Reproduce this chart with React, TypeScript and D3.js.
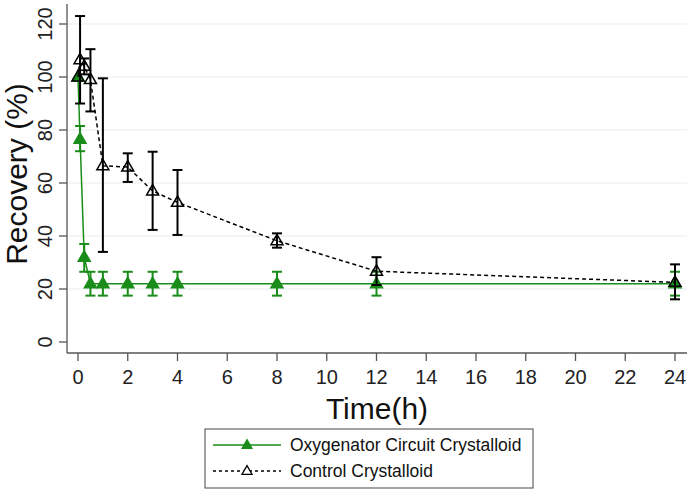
import React from "react";
import * as d3 from "d3";

const times = [0, 0.083, 0.25, 0.5, 1, 2, 3, 4, 8, 12, 24];
const oxyMean = [100, 76.5, 32, 22, 22, 22, 22, 22, 22, 22, 22];
const oxyLow = [null, 72, 26.5, 17.5, 17.5, 17.5, 17.5, 17.5, 17.5, 17.5, 17.5];
const oxyHigh = [null, 81.5, 37, 26.5, 26.5, 26.5, 26.5, 26.5, 26.5, 26.5, 26.5];
const ctrlMean = [100, 106.5, 104, 99, 66.5, 66, 57, 52.7, 38.2, 26.7, 22.5];
const ctrlLow = [null, 90, 101, 87, 34, 60.4, 42.3, 40.4, 35.6, 21.5, 16.1];
const ctrlHigh = [null, 123, 107, 110.5, 99.5, 71.2, 71.8, 64.9, 41, 32, 29.3];
const xTicks = [0, 2, 4, 6, 8, 10, 12, 14, 16, 18, 20, 22, 24];
const yTicks = [0, 20, 40, 60, 80, 100, 120];
const legendLabels = ["Oxygenator Circuit Crystalloid", "Control Crystalloid"];

const GREEN = "#1a8c1a";
const FONT = "Liberation Sans, Arial, sans-serif";

function tri(cx: number, cy: number, s: number) {
  const h = s * 0.866;
  return `M${cx},${cy - h * 0.62} L${cx + s / 2},${cy + h * 0.38} L${cx - s / 2},${cy + h * 0.38} Z`;
}

export default function App() {
  const W = 690, H = 490;
  const x = d3.scaleLinear().domain([0, 24]).range([78, 675]);
  const y = d3.scaleLinear().domain([0, 120]).range([342, 24]);
  const axL = 67, axR = 687, axT = 4, axB = 353;

  const line = d3
    .line<number>()
    .x((_, i) => x(times[i]))
    .y((d) => y(d));

  const series = [
    { mean: oxyMean, low: oxyLow, high: oxyHigh, color: GREEN, dash: undefined as string | undefined, fill: GREEN },
    { mean: ctrlMean, low: ctrlLow, high: ctrlHigh, color: "#000", dash: "4,3", fill: "none" },
  ];
  const cap = 5;

  return (
    <svg width={W} height={H} style={{ position: "absolute", left: 0, top: 0, background: "#fff" }}>
      <rect width={W} height={H} fill="#fff" />
      {yTicks.filter((t) => t > 0).map((t) => (
        <line key={"g" + t} x1={axL} x2={axR} y1={y(t)} y2={y(t)} stroke="#e6eef2" strokeWidth={1.2} />
      ))}
      <line x1={axL} x2={axL} y1={axT} y2={axB} stroke="#555" strokeWidth={1.3} />
      <line x1={axL} x2={axR} y1={axB} y2={axB} stroke="#555" strokeWidth={1.3} />
      {yTicks.map((t) => (
        <g key={"yt" + t}>
          <line x1={axL - 8} x2={axL} y1={y(t)} y2={y(t)} stroke="#555" strokeWidth={1.3} />
          <text
            transform={`translate(${52},${y(t)}) rotate(-90)`}
            textAnchor="middle"
            fontFamily={FONT}
            fontSize={20}
            fill="#222"
          >
            {t}
          </text>
        </g>
      ))}
      {xTicks.map((t) => (
        <g key={"xt" + t}>
          <line x1={x(t)} x2={x(t)} y1={axB} y2={axB + 8} stroke="#555" strokeWidth={1.3} />
          <text x={x(t)} y={axB + 31} textAnchor="middle" fontFamily={FONT} fontSize={20} fill="#222">
            {t}
          </text>
        </g>
      ))}
      <text x={(axL + axR) / 2} y={419} textAnchor="middle" fontFamily={FONT} fontSize={30} fill="#111">
        Time(h)
      </text>
      <text
        transform={`translate(${27},${174}) rotate(-90)`}
        textAnchor="middle"
        fontFamily={FONT}
        fontSize={30}
        fill="#111"
      >
        Recovery (%)
      </text>

      {series.map((s, si) => (
        <g key={"s" + si}>
          <path
            d={line(s.mean) || ""}
            fill="none"
            stroke={s.color}
            strokeWidth={1.5}
            strokeDasharray={s.dash}
          />
          {s.mean.map((m, i) => {
            const lo = s.low[i];
            const hi = s.high[i];
            const cx = x(times[i]);
            return (
              <g key={i}>
                {lo !== null && hi !== null && (
                  <g stroke={s.color} strokeWidth={2}>
                    <line x1={cx} x2={cx} y1={y(hi)} y2={y(lo)} />
                    <line x1={cx - cap} x2={cx + cap} y1={y(hi)} y2={y(hi)} />
                    <line x1={cx - cap} x2={cx + cap} y1={y(lo)} y2={y(lo)} />
                  </g>
                )}
                <path d={tri(cx, y(m), 12)} fill={s.fill} stroke={s.color} strokeWidth={1.5} />
              </g>
            );
          })}
        </g>
      ))}

      <rect x={205} y={429} width={328} height={59} fill="#fff" stroke="#444" strokeWidth={1} />
      <line x1={213} x2={281} y1={445} y2={445} stroke={GREEN} strokeWidth={1.5} />
      <path d={tri(247, 445, 10)} fill={GREEN} stroke={GREEN} strokeWidth={1.2} />
      <text x={290} y={451} fontFamily={FONT} fontSize={17.5} fill="#111">
        {legendLabels[0]}
      </text>
      <line x1={213} x2={281} y1={471} y2={471} stroke="#000" strokeWidth={1.3} strokeDasharray="3,3" />
      <path d={tri(247, 471, 10)} fill="#fff" stroke="#000" strokeWidth={1.3} />
      <text x={290} y={477} fontFamily={FONT} fontSize={17.5} fill="#111">
        {legendLabels[1]}
      </text>
    </svg>
  );
}
